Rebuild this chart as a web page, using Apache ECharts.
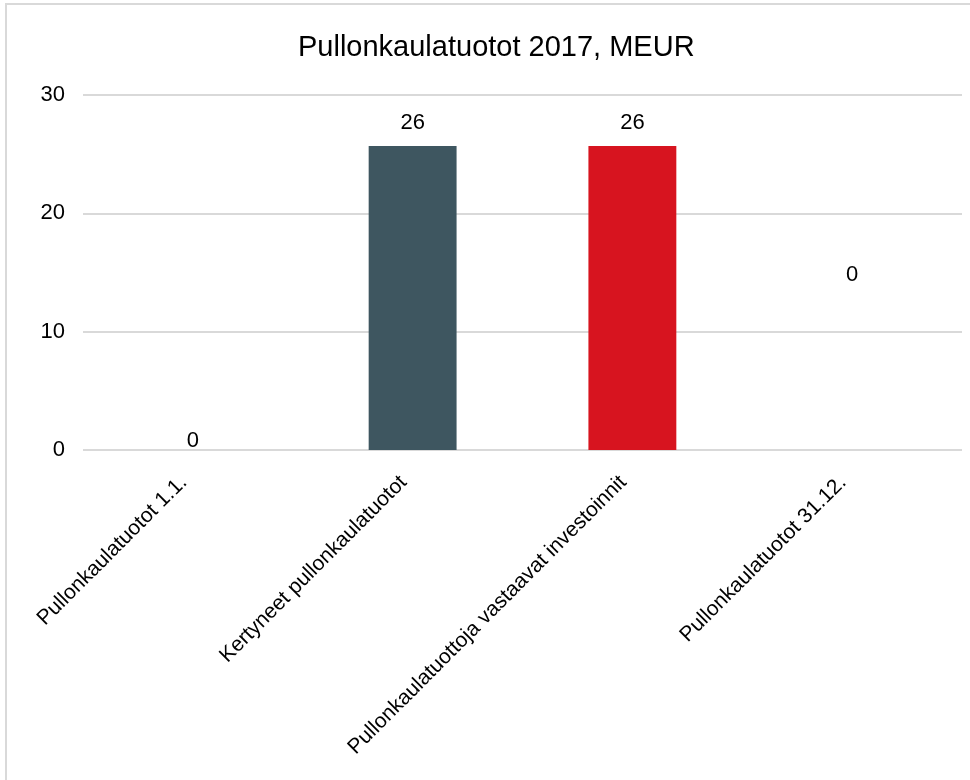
<!DOCTYPE html>
<html>
<head>
<meta charset="utf-8">
<script src="https://cdn.jsdelivr.net/npm/echarts@6/dist/echarts.min.js"></script>
<style>
  html, body { margin: 0; padding: 0; background: #fff; }
  #frame { position: absolute; left: 5px; top: 3px; width: 1000px; height: 1000px;
           border-left: 2px solid #d9d9d9; border-top: 2px solid #d9d9d9; }
  #main { position: absolute; left: 0; top: 0; width: 970px; height: 780px; }
</style>
</head>
<body>
<div id="frame"></div>
<div id="main"></div>
<script>
// waterfall data (MEUR)
var categories = ['Pullonkaulatuotot 1.1.', 'Kertyneet pullonkaulatuotot',
                  'Pullonkaulatuottoja vastaavat investoinnit', 'Pullonkaulatuotot 31.12.'];
var baseValues = [0, 0, 0, 0];          // invisible offset of each step
var barValues = [0, 25.7, 25.7, 0];     // visible height of each step
var barColors = ['#3e5660', '#3e5660', '#d7141f', '#3e5660'];
var yTicks = [0, 10, 20, 30];

var myChart = echarts.init(document.getElementById('main'));
myChart.setOption({
  animation: false,
  title: {
    text: 'Pullonkaulatuotot 2017, MEUR',
    left: 293,
    top: 28,
    textStyle: { fontFamily: 'Liberation Sans', fontSize: 29, fontWeight: 'normal', color: '#000' }
  },
  grid: { left: 83, right: 8, top: 95, bottom: 330 },
  xAxis: {
    type: 'category',
    data: categories,
    axisLine: { show: false },
    axisTick: { show: false },
    axisLabel: {
      rotate: 45,
      interval: 0,
      margin: 20,
      padding: [0, 13, 0, 0],
      fontFamily: 'Liberation Sans',
      fontSize: 21,
      color: '#000'
    }
  },
  yAxis: {
    type: 'value',
    min: yTicks[0],
    max: yTicks[yTicks.length - 1],
    interval: 10,
    axisLine: { show: false },
    axisTick: { show: false },
    axisLabel: { fontFamily: 'Liberation Sans', fontSize: 22, color: '#000', margin: 18 },
    splitLine: { lineStyle: { color: '#d9d9d9', width: 2 } }
  },
  series: [
    {
      type: 'bar',
      stack: 'wf',
      silent: true,
      itemStyle: { color: 'transparent' },
      data: baseValues
    },
    {
      type: 'bar',
      stack: 'wf',
      barWidth: '40%',
      data: barValues.map(function (v, i) {
        var item = { value: v, itemStyle: { color: barColors[i] } };
        if (i === 0) {
          item.label = { offset: [0, 14] };
        }
        if (i === barValues.length - 1) {
          item.label = { offset: [0, -152] };
        }
        return item;
      }),
      label: {
        show: true,
        position: 'top',
        distance: 12,
        fontFamily: 'Liberation Sans',
        fontSize: 22,
        color: '#000',
        formatter: function (p) { return Math.round(p.value); }
      }
    }
  ]
});
</script>
</body>
</html>
